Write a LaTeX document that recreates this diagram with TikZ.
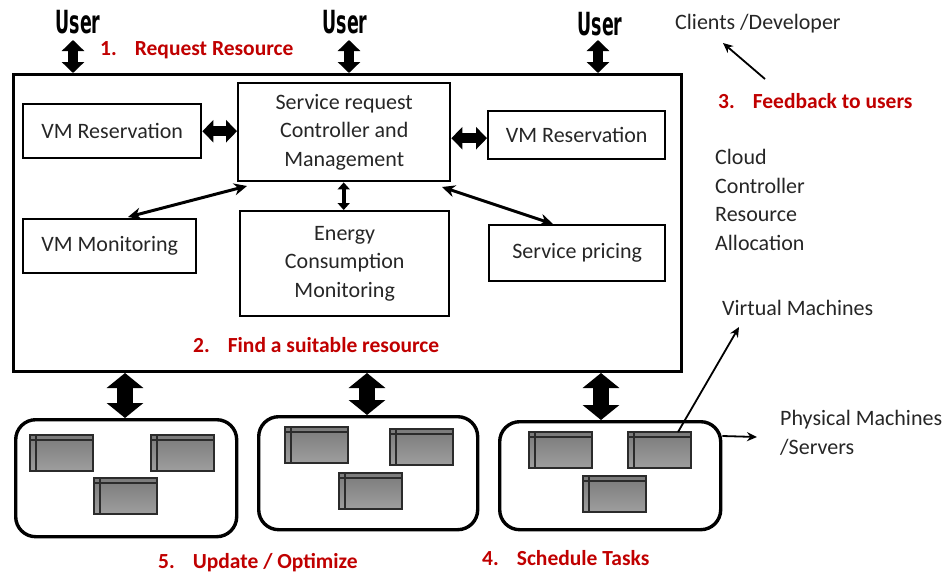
\documentclass[tikz,border=0pt]{standalone}
\usepackage{fontspec}
\setmainfont{Carlito}
\newfontfamily\userfont{DejaVu Sans Condensed}
\usetikzlibrary{arrows.meta}
\definecolor{txt}{HTML}{262626}
\definecolor{stepred}{HTML}{C00000}
\definecolor{srvedge}{HTML}{2B2B2B}
\newcommand\bodyfont{\fontsize{22}{28.5}\selectfont}
\newcommand\stepfont{\fontsize{21.5}{24}\selectfont\bfseries}
\newcommand\userlabel{\scalebox{0.88}[1.45]{\userfont\bfseries\fontsize{22}{22}\selectfont User}}
\tikzset{
  box/.style={draw, line width=2.4pt, inner sep=0pt, align=center, font=\bodyfont, text=txt},
  pmbox/.style={draw, line width=3.4pt, rounded corners=20pt, inner sep=0pt},
  label/.style={inner sep=0pt, anchor=west, align=left, font=\bodyfont, text=txt},
  steplabel/.style={inner sep=0pt, anchor=west, font=\stepfont, text=stepred},
  smallblock/.style={line width=10pt, {Triangle[width=22pt,length=11pt]}-{Triangle[width=22pt,length=11pt]}},
  bigblock/.style={line width=16pt, {Triangle[width=36pt,length=15pt]}-{Triangle[width=36pt,length=15pt]}},
  tinyblock/.style={line width=4pt, {Triangle[width=12pt,length=7pt]}-{Triangle[width=12pt,length=7pt]}},
  link/.style={line width=3pt, {Stealth[length=13pt,width=12pt]}-{Stealth[length=13pt,width=12pt]}},
  pointer/.style={line width=1.8pt, -{Stealth[length=10pt,width=9pt]}},
  server/.pic={
    \shade[top color={rgb,255:red,122;green,122;blue,122}, bottom color={rgb,255:red,158;green,158;blue,158}]
      (0,0) rectangle (63,36);
    \draw[srvedge, line width=1.3pt] (0,5) -- (63,5) (6,0) -- (6,36);
    \draw[srvedge, line width=1.5pt] (0,0) rectangle (63,36);
  }
}
\begin{document}
\begin{tikzpicture}[x=1pt, y=-1pt]
\useasboundingbox (0,0) rectangle (948,573);

% users on top
\node[inner sep=0pt] (u1) at (78,22) {\userlabel};
\node[inner sep=0pt] (u2) at (345,22) {\userlabel};
\node[inner sep=0pt] (u3) at (600,24) {\userlabel};

% cloud controller frame
\node[draw, line width=3pt, inner sep=0pt, minimum width=668pt, minimum height=297pt, anchor=north west] (cloud) at (12,73) {};

% inner components
\node[box, minimum width=178pt, minimum height=54pt, anchor=north west] (vmrl) at (22,103) {VM Reservation};
\node[box, minimum width=212pt, minimum height=98pt, anchor=north west] (src) at (237,82) {Service request\\Controller and\\Management};
\node[box, minimum width=177pt, minimum height=48pt, anchor=north west] (vmrr) at (487,110) {VM Reservation};
\node[box, minimum width=173pt, minimum height=54pt, anchor=north west] (vmm) at (22,218) {VM Monitoring};
\node[box, minimum width=209pt, minimum height=105pt, anchor=north west] (ecm) at (239,210) {Energy\\Consumption\\Monitoring};
\node[box, minimum width=176pt, minimum height=56pt, anchor=north west] (price) at (488,224) {Service pricing};

% physical machine pools
\node[pmbox, minimum width=221pt, minimum height=117pt, anchor=north west] (pm1) at (14,418) {};
\node[pmbox, minimum width=219pt, minimum height=113pt, anchor=north west] (pm2) at (257,415) {};
\node[pmbox, minimum width=221pt, minimum height=108pt, anchor=north west] (pm3) at (498,420) {};

% virtual machines inside each pool
\pic at (30,435) {server};
\pic at (151,435) {server};
\pic at (94,478) {server};
\pic at (285,427) {server};
\pic at (390,429) {server};
\pic at (339,473) {server};
\pic at (529,432) {server};
\coordinate (vm) at (628,432);
\pic at (vm) {server};
\pic at (583,476) {server};

% user <-> cloud
\coordinate (a1) at (73,40);
\coordinate (a2) at (349,40);
\coordinate (a3) at (598,40);
\draw[smallblock] (a1) -- (a1 |- cloud.north);
\draw[smallblock] (a2) -- (a2 |- cloud.north);
\draw[smallblock] (a3) -- (a3 |- cloud.north);

% component links
\draw[smallblock] (vmrl.east) -- (vmrl.east -| src.west);
\draw[smallblock] ([yshift=-6pt]src.east) -- ([yshift=-6pt]src.east -| vmrr.west);
\draw[tinyblock] ([xshift=-0.5pt]src.south) -- ([xshift=-0.5pt]src.south |- ecm.north);
\coordinate (m1) at (128,217);
\coordinate (m2) at (247,186);
\draw[link] (m1) -- (m2);
\coordinate (p1) at (442,187);
\coordinate (p2) at (553,224);
\draw[link] (p1) -- (p2);

% cloud <-> machine pools
\draw[bigblock] (cloud.south -| 125,0) -- (125,418);
\draw[bigblock] (cloud.south -| 367,0) -- (367,415);
\draw[bigblock] (cloud.south -| 601,0) -- (601,420);

% side annotations
\node[label] (clients) at (675,24) {Clients /Developer};
\node[label] (ctrl) at (715,200) {Cloud\\Controller\\Resource\\Allocation};
\node[label] (vms) at (722,308) {Virtual Machines};
\node[label] (phys) at (780,433) {Physical Machines\\/Servers};
\coordinate (fb) at (765,79);
\draw[pointer] (fb) -- (723,43);
\draw[pointer] ([xshift=50pt]vm) -- (739,327);
\draw[pointer] (pm3.east |- 0,436) -- (757,437);

% numbered steps
\node[steplabel] at (100,50) {1.\hspace{18pt}Request Resource};
\node[steplabel] at (193,345) {2.\hspace{18pt}Find a suitable resource};
\node[steplabel] at (718,101) {3.\hspace{18pt}Feedback to users};
\node[steplabel] at (482,558) {4.\hspace{18pt}Schedule Tasks};
\node[steplabel] at (158,563) {5.\hspace{18pt}Update / Optimize};
\end{tikzpicture}
\end{document}
